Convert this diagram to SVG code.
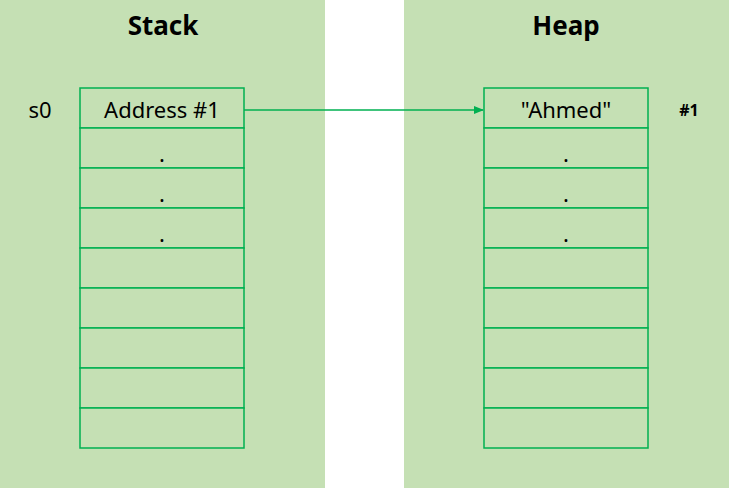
<svg xmlns="http://www.w3.org/2000/svg" width="729" height="488" viewBox="0 0 729 488">
<defs>
<style>
.cell{fill:#c5e0b4;stroke:#00b050;stroke-width:1.5}
.t{font-family:"Noto Sans","Liberation Sans",sans-serif;font-size:22px;fill:#000;text-anchor:middle}
.h{font-family:"Noto Sans","Liberation Sans",sans-serif;font-size:26px;font-weight:bold;fill:#000;text-anchor:middle}
</style>
<marker id="ar" markerWidth="10" markerHeight="8" refX="9" refY="4" orient="auto" markerUnits="userSpaceOnUse"><path d="M0,0 L10,4 L0,8 Z" fill="#00b050"/></marker>
</defs>
<rect width="729" height="488" fill="#fff"/>
<rect x="0" y="0" width="325" height="488" fill="#c5e0b4"/>
<rect x="404" y="0" width="325" height="488" fill="#c5e0b4"/>
<g id="stack">
<text class="h" x="163" y="35">Stack</text>
<text class="t" x="40" y="118">s0</text>
<rect class="cell" x="80" y="88" width="164" height="40"/>
<rect class="cell" x="80" y="128" width="164" height="40"/>
<rect class="cell" x="80" y="168" width="164" height="40"/>
<rect class="cell" x="80" y="208" width="164" height="40"/>
<rect class="cell" x="80" y="248" width="164" height="40"/>
<rect class="cell" x="80" y="288" width="164" height="40"/>
<rect class="cell" x="80" y="328" width="164" height="40"/>
<rect class="cell" x="80" y="368" width="164" height="40"/>
<rect class="cell" x="80" y="408" width="164" height="40"/>
<text class="t" x="162" y="118">Address #1</text>
<text class="t" x="162" y="162">.</text>
<text class="t" x="162" y="202">.</text>
<text class="t" x="162" y="242">.</text>
</g>
<g id="heap">
<text class="h" x="566" y="35">Heap</text>
<text x="689" y="116" font-family="Noto Sans,Liberation Sans,sans-serif" font-size="16" font-weight="bold" text-anchor="middle">#1</text>
<rect class="cell" x="484" y="88" width="164" height="40"/>
<rect class="cell" x="484" y="128" width="164" height="40"/>
<rect class="cell" x="484" y="168" width="164" height="40"/>
<rect class="cell" x="484" y="208" width="164" height="40"/>
<rect class="cell" x="484" y="248" width="164" height="40"/>
<rect class="cell" x="484" y="288" width="164" height="40"/>
<rect class="cell" x="484" y="328" width="164" height="40"/>
<rect class="cell" x="484" y="368" width="164" height="40"/>
<rect class="cell" x="484" y="408" width="164" height="40"/>
<text class="t" x="566" y="118">"Ahmed"</text>
<text class="t" x="566" y="162">.</text>
<text class="t" x="566" y="202">.</text>
<text class="t" x="566" y="242">.</text>
</g>
<g id="connectors">
<line x1="244" y1="110" x2="483" y2="110" stroke="#00b050" stroke-width="1.5" marker-end="url(#ar)"/>
</g>
</svg>
